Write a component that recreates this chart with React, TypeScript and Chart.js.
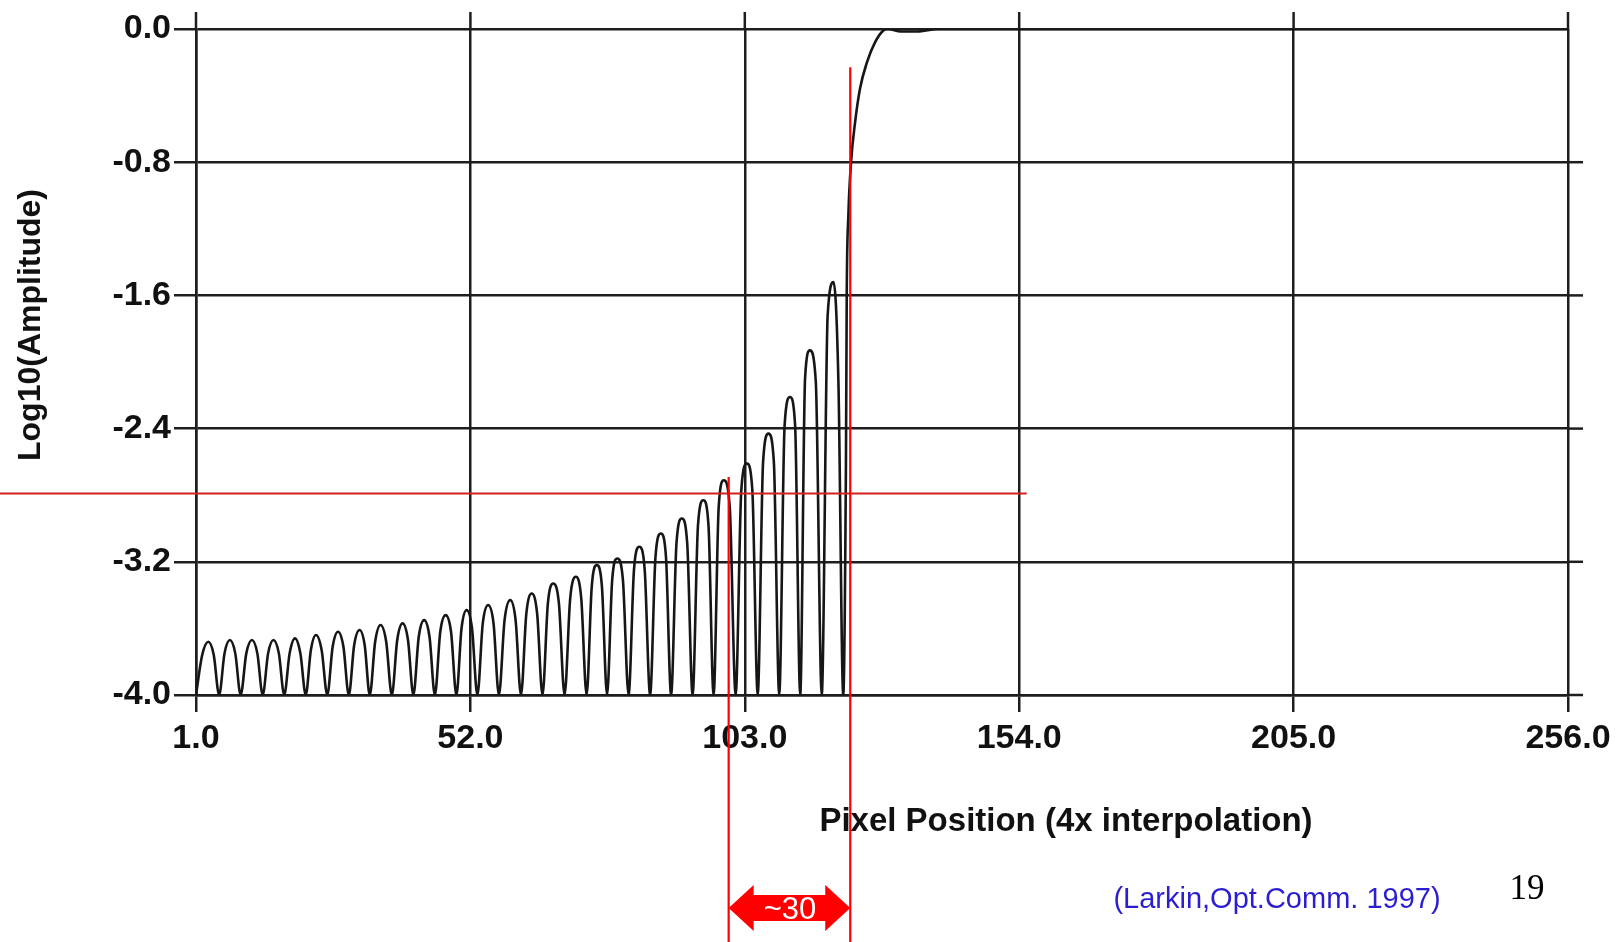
import React, { useEffect, useRef } from "react";
import { Chart, registerables } from "chart.js";

Chart.register(...registerables);

// ---- axis ticks ----
const xTicks = [1, 52, 103, 154, 205, 256];
const yTicks = [-4.0, -3.2, -2.4, -1.6, -0.8, 0.0];

// ---- side-lobe region ----
const floorLevel = -4.0;
const lobeNullX = [1.0, 5.3, 9.3, 13.4, 17.4, 21.4, 25.4, 29.4, 33.3, 37.4, 41.4, 45.4, 49.4, 53.3, 57.3, 61.4, 65.4, 69.5, 73.6, 77.4, 81.4, 85.4, 89.3, 93.3, 97.2, 101.3, 105.4, 109.4, 113.3, 117.3, 121.3];
const lobePeakX = [3.3, 7.3, 11.4, 15.4, 19.4, 23.3, 27.4, 31.4, 35.3, 39.4, 43.4, 47.4, 51.3, 55.3, 59.4, 63.4, 67.4, 71.6, 75.5, 79.3, 83.4, 87.4, 91.3, 95.3, 99.1, 103.4, 107.4, 111.4, 115.1, 119.5];
const lobePeakY = [-3.68, -3.67, -3.67, -3.67, -3.66, -3.64, -3.62, -3.61, -3.58, -3.57, -3.55, -3.52, -3.49, -3.46, -3.43, -3.39, -3.33, -3.29, -3.22, -3.18, -3.11, -3.03, -2.94, -2.83, -2.71, -2.61, -2.43, -2.21, -1.93, -1.52];
const lobeRiseY = [-3.76, -3.75, -3.75, -3.75, -3.75, -3.73, -3.71, -3.70, -3.68, -3.67, -3.65, -3.62, -3.60, -3.57, -3.55, -3.51, -3.45, -3.42, -3.35, -3.31, -3.25, -3.17, -3.09, -2.98, -2.87, -2.77, -2.60, -2.38, -2.10, -1.72];
const lobeFallY = [-3.76, -3.75, -3.75, -3.75, -3.75, -3.73, -3.71, -3.70, -3.68, -3.67, -3.65, -3.62, -3.60, -3.57, -3.55, -3.51, -3.45, -3.42, -3.35, -3.31, -3.25, -3.17, -3.09, -2.98, -2.87, -2.77, -2.60, -2.38, -2.12, -2.12];

// ---- main lobe edge ----
const edgeX = [121.8, 121.95, 122.25, 122.75, 123.5, 124.4, 125.7, 127.2, 128.7, 129.6, 132.0, 135.0, 139.0, 256.0];
const edgeY = [-2.6, -1.58, -1.12, -0.80, -0.56, -0.36, -0.20, -0.08, -0.01, 0.0, -0.015, -0.015, 0.0, 0.0];

// ---- red annotation (data coordinates) ----
const markLeftX = 100.0;
const markRightX = 122.6;
const markLevelY = -2.79;
const markLeftTopY = -2.69;
const markRightTopY = -0.23;
const markLevelEndX = 155.4;

const fmt = (v: number) => {
  const s = Number(v).toFixed(1);
  return s === "-0.0" ? "0.0" : s;
};

function buildCurve() {
  const pts: { x: number; y: number }[] = [];
  for (let i = 0; i < lobePeakX.length; i++) {
    const n0 = lobeNullX[i];
    const n1 = lobeNullX[i + 1];
    const p = lobePeakX[i];
    pts.push({ x: n0, y: floorLevel });
    pts.push({ x: (n0 + p) / 2, y: lobeRiseY[i] });
    pts.push({ x: p, y: lobePeakY[i] });
    pts.push({ x: (p + n1) / 2, y: lobeFallY[i] });
  }
  pts.push({ x: lobeNullX[lobeNullX.length - 1], y: floorLevel });
  edgeX.forEach((x, i) => pts.push({ x, y: edgeY[i] }));
  return pts;
}

const tickFont = { family: "'Liberation Sans', Arial, Helvetica, sans-serif", size: 34, weight: "bold" as const };
const GRID = "#1e1e1e";

const extendPlugin = {
  id: "extendGrid",
  afterDraw(chart: any) {
    const { ctx, chartArea: a, scales } = chart;
    const x = scales.x;
    const y = scales.y;
    ctx.save();
    ctx.strokeStyle = GRID;
    ctx.lineWidth = 2.5;
    xTicks.forEach((v) => {
      const px = x.getPixelForValue(v);
      ctx.beginPath();
      ctx.moveTo(px, a.top - 17);
      ctx.lineTo(px, a.top);
      ctx.stroke();
    });
    yTicks.forEach((v) => {
      if (v === 0) return;
      const py = y.getPixelForValue(v);
      ctx.beginPath();
      ctx.moveTo(a.right, py);
      ctx.lineTo(a.right + 15, py);
      ctx.stroke();
    });
    ctx.restore();
  },
};

const markPlugin = {
  id: "redMarks",
  afterDraw(chart: any) {
    const { ctx, scales, height } = chart;
    const x = scales.x;
    const y = scales.y;
    const lx = x.getPixelForValue(markLeftX);
    const rx = x.getPixelForValue(markRightX);
    const ly = y.getPixelForValue(markLevelY);
    ctx.save();
    ctx.lineWidth = 2;
    ctx.strokeStyle = "#d42020";
    ctx.beginPath();
    ctx.moveTo(0, ly);
    ctx.lineTo(x.getPixelForValue(markLevelEndX), ly);
    ctx.stroke();
    ctx.strokeStyle = "#ff0000";
    ctx.lineWidth = 2.2;
    ctx.beginPath();
    ctx.moveTo(lx, y.getPixelForValue(markLeftTopY));
    ctx.lineTo(lx, height);
    ctx.stroke();
    ctx.beginPath();
    ctx.moveTo(rx, y.getPixelForValue(markRightTopY));
    ctx.lineTo(rx, height);
    ctx.stroke();
    // double arrow
    const ay = 908;
    const head = 25;
    const hh = 23;
    const sh = 13;
    ctx.fillStyle = "#ff0000";
    ctx.beginPath();
    ctx.moveTo(lx, ay);
    ctx.lineTo(lx + head, ay - hh);
    ctx.lineTo(lx + head, ay - sh);
    ctx.lineTo(rx - head, ay - sh);
    ctx.lineTo(rx - head, ay - hh);
    ctx.lineTo(rx, ay);
    ctx.lineTo(rx - head, ay + hh);
    ctx.lineTo(rx - head, ay + sh);
    ctx.lineTo(lx + head, ay + sh);
    ctx.lineTo(lx + head, ay + hh);
    ctx.closePath();
    ctx.fill();
    ctx.restore();
  },
};

export default function App() {
  const ref = useRef<HTMLCanvasElement | null>(null);

  useEffect(() => {
    if (!ref.current) return;
    const chart = new Chart(ref.current, {
      type: "line",
      data: {
        datasets: [
          {
            data: buildCurve(),
            borderColor: "#161616",
            borderWidth: 2.6,
            pointRadius: 0,
            fill: false,
            cubicInterpolationMode: "monotone",
          } as any,
        ],
      },
      options: {
        responsive: false,
        animation: false,
        devicePixelRatio: 1,
        layout: { padding: { left: 0, top: 29, right: 53, bottom: 0 } },
        plugins: {
          legend: { display: false },
          tooltip: { enabled: false },
          title: { display: false },
        },
        scales: {
          x: {
            type: "linear",
            min: 1,
            max: 256,
            afterFit: (s: any) => {
              s.height = 247;
            },
            ticks: {
              stepSize: 51,
              autoSkip: false,
              maxRotation: 0,
              padding: 6,
              color: "#111",
              font: tickFont,
              callback: (v: any) => fmt(v),
            },
            grid: { color: GRID, lineWidth: 2.5, tickLength: 17, tickColor: GRID, tickWidth: 2.5 },
            border: { color: GRID, width: 2.5 },
          },
          y: {
            type: "linear",
            min: -4,
            max: 0,
            afterFit: (s: any) => {
              s.width = 196;
            },
            ticks: {
              stepSize: 0.8,
              padding: 3,
              color: "#111",
              font: tickFont,
              callback: (v: any) => fmt(v),
            },
            grid: { color: GRID, lineWidth: 2.5, tickLength: 22, tickColor: GRID, tickWidth: 2.5 },
            border: { color: GRID, width: 2.5 },
          },
        },
      } as any,
      plugins: [extendPlugin, markPlugin],
    });
    return () => chart.destroy();
  }, []);

  const sans = "'Liberation Sans', Arial, Helvetica, sans-serif";
  const center: React.CSSProperties = {
    position: "absolute",
    whiteSpace: "nowrap",
    lineHeight: 1,
    transform: "translate(-50%, -50%)",
  };

  return (
    <div style={{ position: "absolute", left: 0, top: 0, width: 1621, height: 942, background: "#fff", overflow: "hidden" }}>
      <canvas ref={ref} width={1621} height={942} style={{ display: "block", width: 1621, height: 942 }} />
      <div style={{ ...center, left: 1066, top: 819, fontFamily: sans, fontWeight: "bold", fontSize: 33, color: "#111" }}>
        Pixel Position (4x interpolation)
      </div>
      <div
        style={{
          ...center,
          left: 29,
          top: 325,
          transform: "translate(-50%, -50%) rotate(-90deg)",
          fontFamily: sans,
          fontWeight: "bold",
          fontSize: 32,
          color: "#111",
        }}
      >
        Log10(Amplitude)
      </div>
      <div style={{ ...center, left: 1277, top: 898, fontFamily: sans, fontSize: 29, color: "#2a1ed0" }}>
        (Larkin,Opt.Comm. 1997)
      </div>
      <div style={{ ...center, left: 1527, top: 887, fontFamily: "'Liberation Serif', 'Times New Roman', serif", fontSize: 35, color: "#000" }}>
        19
      </div>
      <div style={{ ...center, left: 790, top: 908, fontFamily: sans, fontSize: 31, color: "#fff" }}>~30</div>
    </div>
  );
}
